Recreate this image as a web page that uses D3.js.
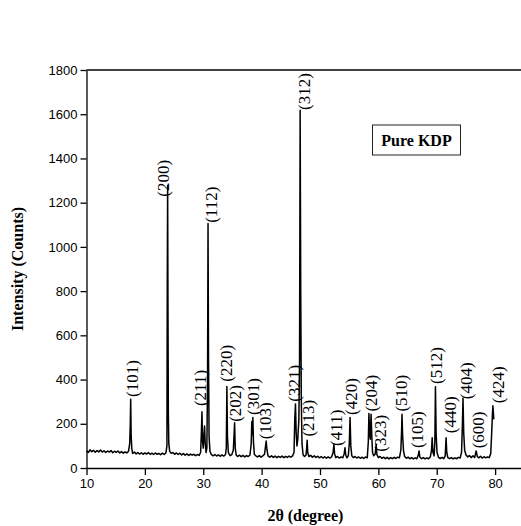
<!DOCTYPE html>
<html><head><meta charset="utf-8">
<script src="https://cdn.jsdelivr.net/npm/d3@7"></script>
<style>body{margin:0;background:#fff}svg{display:block}</style>
</head><body>
<svg id="c" width="521" height="526"></svg>
<script>
const xTicks = [10, 20, 30, 40, 50, 60, 70, 80];
const yTicks = [0, 200, 400, 600, 800, 1000, 1200, 1400, 1600, 1800];

// XRD pattern: [2theta, counts]
const pattern = [
[10.0,78],[10.3,70],[10.6,82],[10.9,74],[11.2,80],[11.5,71],[11.8,79],[12.1,73],[12.4,81],[12.7,72],
[13.0,78],[13.3,70],[13.6,77],[13.9,72],[14.2,79],[14.5,69],[14.8,76],[15.1,71],[15.4,77],[15.7,68],
[16.0,74],[16.3,67],[16.6,73],[16.9,68],[17.2,76],[17.4,110],[17.5,200],[17.57,311],[17.65,150],[17.75,90],
[17.9,66],[18.2,72],[18.5,64],[18.8,70],[19.1,63],[19.4,69],[19.7,62],[20.0,68],[20.3,63],[20.6,70],
[20.9,62],[21.2,67],[21.5,61],[21.8,68],[22.1,62],[22.4,66],[22.7,60],[23.0,67],[23.3,61],[23.6,68],
[23.78,100],[23.84,860],[23.9,1278],[23.96,700],[24.02,250],[24.1,110],[24.25,75],[24.5,66],[24.8,70],[25.1,62],
[25.4,68],[25.7,61],[26.0,67],[26.3,59],[26.6,65],[26.9,58],[27.2,64],[27.5,57],[27.8,63],[28.1,58],
[28.4,62],[28.7,56],[29.0,61],[29.3,57],[29.55,70],[29.68,160],[29.78,254],[29.88,120],[30.0,90],[30.1,140],
[30.22,190],[30.34,110],[30.48,70],[30.62,90],[30.74,400],[30.82,1106],[30.9,500],[31.0,140],[31.15,75],[31.4,60],
[31.7,55],[32.0,61],[32.3,54],[32.6,60],[32.9,53],[33.2,59],[33.5,54],[33.8,60],[33.95,90],[34.05,369],
[34.15,140],[34.3,70],[34.6,56],[34.9,61],[35.15,80],[35.28,150],[35.37,205],[35.48,90],[35.65,58],[35.9,52],
[36.2,58],[36.5,51],[36.8,57],[37.1,50],[37.4,56],[37.7,52],[38.0,58],[38.22,110],[38.32,210],[38.4,150],
[38.5,228],[38.6,120],[38.75,62],[39.0,55],[39.3,50],[39.6,56],[39.9,49],[40.2,55],[40.5,62],[40.65,95],
[40.78,122],[40.9,85],[41.1,55],[41.4,49],[41.7,55],[42.0,48],[42.3,54],[42.6,47],[42.9,53],[43.2,48],
[43.5,54],[43.8,47],[44.1,53],[44.4,48],[44.7,54],[45.0,49],[45.3,55],[45.55,70],[45.68,220],[45.8,289],
[45.92,160],[46.05,100],[46.2,130],[46.38,220],[46.5,500],[46.6,1618],[46.7,800],[46.8,300],[46.92,110],[47.1,60],
[47.35,52],[47.6,58],[47.72,90],[47.8,125],[47.9,70],[48.1,52],[48.4,57],[48.7,49],[49.0,55],[49.3,48],
[49.6,53],[49.9,46],[50.2,52],[50.5,45],[50.8,51],[51.1,44],[51.4,50],[51.7,45],[52.0,51],[52.25,70],
[52.38,107],[52.5,65],[52.7,47],[53.0,52],[53.3,45],[53.6,50],[53.9,46],[54.15,65],[54.28,92],[54.4,60],
[54.6,46],[54.85,55],[55.02,110],[55.15,228],[55.28,100],[55.45,55],[55.7,47],[56.0,52],[56.3,45],[56.6,50],
[56.9,44],[57.2,49],[57.5,43],[57.8,50],[58.1,46],[58.28,120],[58.38,246],[58.5,160],[58.62,130],[58.75,243],
[58.88,140],[59.0,70],[59.2,55],[59.45,62],[59.62,107],[59.75,60],[60.0,47],[60.3,52],[60.6,44],[60.9,49],
[61.2,42],[61.5,48],[61.8,41],[62.1,47],[62.4,42],[62.7,48],[63.0,43],[63.3,49],[63.6,46],[63.85,80],
[63.97,160],[64.05,243],[64.15,150],[64.3,80],[64.5,52],[64.8,44],[65.1,49],[65.4,42],[65.7,47],[66.0,41],
[66.3,46],[66.6,42],[66.85,60],[66.97,77],[67.1,50],[67.4,42],[67.7,47],[68.0,41],[68.3,46],[68.6,42],
[68.9,50],[69.1,80],[69.22,137],[69.35,70],[69.55,55],[69.68,120],[69.78,367],[69.9,150],[70.05,70],[70.3,48],
[70.6,43],[70.9,48],[71.2,42],[71.45,55],[71.6,137],[71.72,70],[71.9,47],[72.2,42],[72.5,47],[72.8,41],
[73.1,46],[73.4,42],[73.7,48],[74.0,45],[74.25,70],[74.4,200],[74.5,316],[74.62,160],[74.78,80],[75.0,60],
[75.3,50],[75.6,56],[75.9,47],[76.2,55],[76.5,48],[76.75,77],[76.95,52],[77.2,46],[77.5,53],[77.8,45],
[78.1,51],[78.4,46],[78.7,50],[79.0,47],[79.25,65],[79.4,150],[79.52,230],[79.62,281],[79.7,250],[79.78,220]
];

const planes      = ["(101)","(200)","(211)","(112)","(220)","(202)","(301)","(103)","(321)","(312)","(213)","(411)","(420)","(204)","(323)","(510)","(105)","(512)","(440)","(404)","(600)","(424)"];
const planeTheta  = [17.9, 23.15, 29.45, 31.33, 34.02, 35.57, 38.58, 40.71, 45.56, 47.32, 48.0, 52.75, 55.32, 58.87, 60.29, 64.0, 66.75, 70.0, 72.4, 75.15, 77.13, 80.56];
const planeCounts = [321, 1227, 280, 1109, 390, 209, 240, 130, 300, 1619, 142, 100, 240, 255, 74, 255, 90, 380, 157, 311, 89, 293];

const sampleName = "Pure KDP";
const xTitle = "2θ (degree)";
const yTitle = "Intensity (Counts)";

const svg = d3.select("#c");
const x = d3.scaleLinear().domain([10, 85]).range([86.5, 524.3]);
const y = d3.scaleLinear().domain([0, 1800]).range([468, 70]);

const serif = "'Liberation Serif','Times New Roman',serif";
const sans = "'Liberation Sans',Arial,sans-serif";

// axes
const gx = svg.append("g").attr("transform", `translate(0,${y(0)})`)
  .call(d3.axisBottom(x).tickValues(xTicks).tickFormat(d3.format("d")).tickSize(7).tickSizeOuter(0).tickPadding(4));
const gy = svg.append("g").attr("transform", `translate(${x(10)},0)`)
  .call(d3.axisLeft(y).tickValues(yTicks).tickFormat(d3.format("d")).tickSize(6).tickSizeOuter(0).tickPadding(3));
[gx, gy].forEach(g => {
  g.selectAll("path,line").attr("stroke", "#000").attr("stroke-width", 1.3);
  g.selectAll("text").attr("font-family", sans).attr("font-size", 13).attr("fill", "#000");
});
svg.append("line").attr("x1", x(10)).attr("x2", x(85)).attr("y1", y(1800)).attr("y2", y(1800))
  .attr("stroke", "#000").attr("stroke-width", 1.3);

// pattern
svg.append("path").datum(pattern)
  .attr("d", d3.line().x(d => x(d[0])).y(d => y(d[1])))
  .attr("fill", "none").attr("stroke", "#000").attr("stroke-width", 1.5).attr("stroke-linejoin", "round");

// plane labels
svg.append("g").selectAll("text").data(planes).join("text")
  .attr("transform", (d, i) => `translate(${x(planeTheta[i])},${y(planeCounts[i])}) rotate(-90)`)
  .attr("dy", "0.33em")
  .attr("font-family", serif).attr("font-size", 17).attr("fill", "#000")
  .text(d => d);

// sample box
svg.append("rect").attr("x", 372.5).attr("y", 125).attr("width", 88).attr("height", 30)
  .attr("fill", "#fff").attr("stroke", "#222").attr("stroke-width", 1);
svg.append("text").attr("x", 416.5).attr("y", 146).attr("text-anchor", "middle")
  .attr("font-family", serif).attr("font-weight", "bold").attr("font-size", 16).text(sampleName);

// titles
svg.append("text").attr("x", (x(10) + x(85)) / 2).attr("y", 521).attr("text-anchor", "middle")
  .attr("font-family", serif).attr("font-weight", "bold").attr("font-size", 16).text(xTitle);
svg.append("text").attr("transform", `translate(23,${(y(0) + y(1800)) / 2}) rotate(-90)`)
  .attr("text-anchor", "middle")
  .attr("font-family", serif).attr("font-weight", "bold").attr("font-size", 16).text(yTitle);
</script>
</body></html>
